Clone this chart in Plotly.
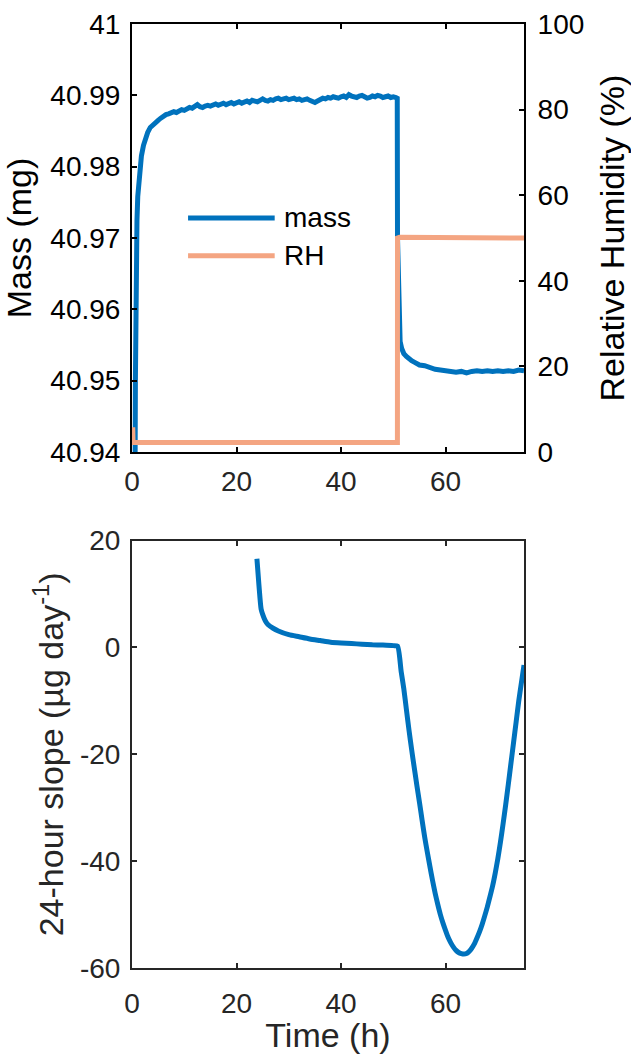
import plotly.graph_objects as go

# ---------------- data ----------------
mass_t = [0, 0.6, 0.65, 0.7, 0.8, 0.95, 1.1, 1.4, 1.8, 2.2, 2.6, 3,
          3.5, 4, 4.5, 5, 5.5, 6, 6.5, 7, 7.5, 8, 8.5, 9, 9.5, 10, 10.5, 11, 11.5,
          12, 12.5, 13, 13.5, 14, 14.5, 15, 15.5, 16, 16.5, 17, 17.5, 18, 18.5,
          19, 19.5, 20, 20.5, 21, 21.5, 22, 22.5, 23, 23.5, 24, 24.5, 25, 25.5,
          26, 26.5, 27, 27.5, 28, 28.5, 29, 29.5, 30, 30.5, 31, 31.5, 32, 32.5,
          33, 33.5, 34, 34.5, 35, 35.5, 36, 36.5, 37, 37.5, 38, 38.5, 39, 39.5,
          40, 40.5, 41, 41.5, 42, 42.5, 43, 43.5, 44, 44.5, 45, 45.5, 46, 46.5,
          47, 47.5, 48, 48.5, 49, 49.5, 50, 50.5, 50.75,
          50.8, 50.95, 51.1, 51.3, 51.6, 52, 52.5, 53, 53.5, 54, 55, 56, 57, 58,
          59, 60, 61, 62, 63, 64, 65, 66, 67, 68, 69, 70, 71, 72, 73, 74, 75]
mass_v = [40.9395, 40.9398, 40.9500, 40.9580, 40.9660, 40.9725, 40.9758, 40.9792,
          40.9815, 40.9830, 40.9841, 40.9848,
          40.9855, 40.9859, 40.9862, 40.9865, 40.9868, 40.9871, 40.9873, 40.9874,
          40.9876, 40.9877, 40.9876, 40.9879, 40.9880, 40.9879, 40.9881, 40.9883,
          40.9882, 40.9885, 40.9887, 40.9884, 40.9883, 40.9885, 40.9886, 40.9885,
          40.9887, 40.9888, 40.9886, 40.9888, 40.9889, 40.9887, 40.9889, 40.9890,
          40.9888, 40.9890, 40.9891, 40.9889, 40.9891, 40.9892, 40.9890, 40.9893,
          40.9892, 40.9891, 40.9893, 40.9895, 40.9893, 40.9892, 40.9894, 40.9893,
          40.9895, 40.9896, 40.9894, 40.9895, 40.9896, 40.9894, 40.9895, 40.9896,
          40.9894, 40.9895, 40.9893, 40.9894, 40.9895, 40.9893, 40.9891, 40.9890,
          40.9892, 40.9894, 40.9896, 40.9895, 40.9897, 40.9896, 40.9898, 40.9897,
          40.9896, 40.9898, 40.9899, 40.9897, 40.9901, 40.9899, 40.9898, 40.9897,
          40.9899, 40.9900, 40.9898, 40.9896, 40.9897, 40.9899, 40.9898, 40.9900,
          40.9899, 40.9897, 40.9898, 40.9899, 40.9897, 40.9898, 40.9897, 40.9896,
          40.9700, 40.9620, 40.9575, 40.9555, 40.9545, 40.9538, 40.9534, 40.9530,
          40.9528, 40.9526, 40.9522, 40.9521, 40.9518, 40.9516, 40.9515, 40.9514,
          40.9514, 40.9512, 40.9513, 40.9511, 40.9513, 40.9514, 40.9513, 40.9514,
          40.9513, 40.9514, 40.9513, 40.9514, 40.9513, 40.9515, 40.9514]

rh_t = [0, 0.15, 0.2, 50.78, 50.8, 51.2, 75]
rh_v = [5.2, 5.2, 2.2, 2.2, 50.0, 50.2, 50.0]

slope_t = [23.9, 24.3, 24.7, 25.0, 25.5, 26, 27, 28, 30, 32, 34, 36, 38, 40, 42,
           44, 46, 48, 50, 50.8, 51.5, 52, 52.5, 53, 53.5, 54, 54.5, 55, 55.5, 56,
           56.5, 57, 57.5, 58, 58.5, 59, 59.5, 60, 60.5, 61, 61.5, 62, 62.5, 63,
           63.5, 64, 64.5, 65, 65.5, 66, 66.5, 67, 67.5, 68, 68.5, 69, 69.5, 70,
           70.5, 71, 71.5, 72, 72.5, 73, 73.5, 74, 74.5, 75]
slope_v = [16.6, 11.5, 7.2, 6.2, 5.0, 4.3, 3.6, 3.1, 2.4, 2.0, 1.6, 1.3, 1.0, 0.85,
           0.75, 0.6, 0.5, 0.45, 0.35, 0.25, -4.5, -7.7, -11.6, -15.5, -19.1, -22.5,
           -25.8, -29.0, -32.3, -35.5, -38.3, -41.0, -43.6, -46.0, -48.1, -50.0,
           -51.6, -53.0, -54.3, -55.3, -56.1, -56.7, -57.1, -57.3, -57.4, -57.3,
           -56.9, -56.3, -55.5, -54.4, -53.2, -51.8, -50.2, -48.5, -46.6, -44.6,
           -42.2, -39.5, -36.4, -33.0, -29.4, -25.6, -21.7, -17.8, -13.9, -10.0,
           -6.6, -3.3]

mass_ticks = [40.94, 40.95, 40.96, 40.97, 40.98, 40.99, 41]
mass_labels = ["40.94", "40.95", "40.96", "40.97", "40.98", "40.99", "41"]
rh_ticks = [0, 20, 40, 60, 80, 100]
time_ticks = [0, 20, 40, 60]
slope_ticks = [-60, -40, -20, 0, 20]
slope_labels = ["-60", "-40", "-20", "0", "20"]

BLUE = "#0072BD"
ORANGE = "#F4A582"
FONT = "Liberation Sans, Arial, sans-serif"
FS = 28

fig = go.Figure()
fig.add_trace(go.Scatter(x=mass_t, y=mass_v, mode="lines", name="mass",
                         line=dict(color=BLUE, width=5), xaxis="x", yaxis="y"))
fig.add_trace(go.Scatter(x=rh_t, y=rh_v, mode="lines", name="RH",
                         line=dict(color=ORANGE, width=5), xaxis="x", yaxis="y2"))
fig.add_trace(go.Scatter(x=slope_t, y=slope_v, mode="lines", name="slope",
                         line=dict(color=BLUE, width=5, shape="spline", smoothing=0.6),
                         xaxis="x2", yaxis="y3"))

axcommon = dict(showgrid=False, zeroline=False, showline=True, linewidth=2,
                ticks="inside", ticklen=5, tickwidth=2, automargin=False)

top_dom = [0.5466, 1.0]
bot_dom = [0.0, 0.4527]

fig.update_layout(
    width=631, height=1054,
    margin=dict(l=132, r=107, t=24, b=86, autoexpand=False),
    paper_bgcolor="white", plot_bgcolor="white",
    font=dict(family=FONT, size=FS, color="black"),
    showlegend=False,
    xaxis=dict(domain=[0, 1], range=[0, 75], anchor="y", tickvals=time_ticks,
               mirror="ticks", linecolor="black", tickcolor="black",
               tickfont=dict(color="#262626"), ticklabelstandoff=3, **axcommon),
    yaxis=dict(domain=top_dom, range=[40.94, 41], anchor="x", tickvals=mass_ticks,
               ticktext=mass_labels, linecolor="black", tickcolor="black",
               ticklabelstandoff=4,
               title=dict(text="Mass (mg)", standoff=11), **axcommon),
    yaxis2=dict(domain=top_dom, range=[0, 100], anchor="x", overlaying="y", side="right",
                tickvals=rh_ticks, linecolor="black", tickcolor="black",
                ticklabelstandoff=6,
                title=dict(text="Relative Humidity (%)", standoff=22), **axcommon),
    xaxis2=dict(domain=[0, 1], range=[0, 75], anchor="y3", tickvals=time_ticks,
                mirror="ticks", linecolor="#262626", tickcolor="#262626",
                tickfont=dict(color="#262626"), ticklabelstandoff=9,
                title=dict(text="Time (h)", standoff=12, font=dict(color="#262626")),
                **axcommon),
    yaxis3=dict(domain=bot_dom, range=[-60, 20], anchor="x2", tickvals=slope_ticks,
                ticktext=slope_labels, mirror="ticks", linecolor="#262626",
                tickcolor="#262626", tickfont=dict(color="#262626"),
                ticklabelstandoff=4,
                title=dict(text="24-hour slope (µg day<sup>-1</sup>)", standoff=6,
                           font=dict(color="#262626")), **axcommon),
)

# legend drawn as line samples + labels inside the top axes
legend_items = [("mass", BLUE, 0.547), ("RH", ORANGE, 0.4586)]
for label, color, ypos in legend_items:
    fig.add_shape(type="line", xref="x domain", yref="y domain",
                  x0=0.143, x1=0.364, y0=ypos, y1=ypos,
                  line=dict(color=color, width=5))
    fig.add_annotation(xref="x domain", yref="y domain", x=0.382, y=ypos,
                       text=label, showarrow=False, xanchor="left", yanchor="middle",
                       font=dict(family=FONT, size=FS, color="black"))

fig.write_html("out.html")
